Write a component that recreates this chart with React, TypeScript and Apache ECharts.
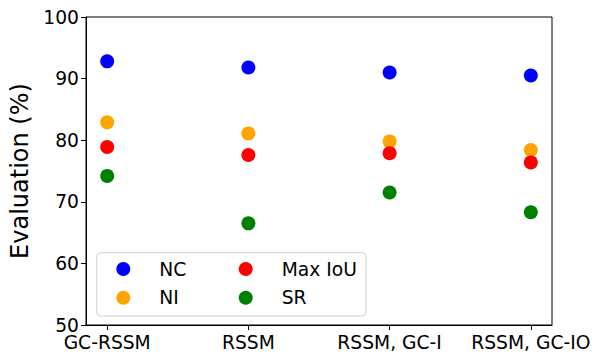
import React, { useEffect, useRef } from "react";
import * as echarts from "echarts";

const categories = ["GC-RSSM", "RSSM", "RSSM, GC-I", "RSSM, GC-IO"];
const ncValues = [92.8, 91.8, 91.0, 90.5];
const niValues = [82.9, 81.1, 79.8, 78.4];
const maxIoUValues = [78.9, 77.6, 77.9, 76.4];
const srValues = [74.2, 66.5, 71.5, 68.3];
const yTicks = [50, 60, 70, 80, 90, 100];

const FONT = "DejaVu Sans";

export default function App() {
  const ref = useRef<HTMLDivElement>(null);
  useEffect(() => {
    if (!ref.current) return;
    const chart = echarts.init(ref.current, null, { renderer: "svg" });
    const mk = (name: string, vals: number[], color: string) => ({
      name,
      type: "scatter",
      symbol: "circle",
      symbolSize: 14,
      itemStyle: { color, opacity: 1 },
      data: vals.map((v, i) => [i, v]),
      z: 3,
    });
    const legendText = {
      color: "#000",
      fontSize: 18.7,
      fontFamily: FONT,
      lineHeight: 20,
      padding: [0, 0, 0, 24],
    };
    chart.setOption({
      animation: false,
      backgroundColor: "#fff",
      grid: {
        left: 86,
        top: 17,
        width: 466,
        height: 308,
        show: true,
        borderColor: "#000",
        borderWidth: 1,
        backgroundColor: "transparent",
      },
      xAxis: {
        type: "value",
        min: -0.15,
        max: 3.15,
        splitLine: { show: false },
        axisLine: { show: true, onZero: false, lineStyle: { color: "#000", width: 1 } },
        axisTick: {
          show: true,
          length: 5,
          lineStyle: { color: "#000" },
          customValues: [0, 1, 2, 3],
        },
        axisLabel: {
          color: "#000",
          fontSize: 18.7,
          fontFamily: FONT,
          lineHeight: 12,
          margin: 11,
          customValues: [0, 1, 2, 3],
          formatter: (v: number) => categories[Math.round(v)] ?? "",
        },
      },
      yAxis: {
        type: "value",
        min: 50,
        max: 100,
        interval: 10,
        name: "Evaluation (%)",
        nameLocation: "middle",
        nameGap: 51,
        nameTextStyle: { color: "#000", fontSize: 24, fontFamily: FONT },
        splitLine: { show: false },
        axisLine: { show: true, onZero: false, lineStyle: { color: "#000", width: 1 } },
        axisTick: { show: true, length: 5, lineStyle: { color: "#000" } },
        axisLabel: {
          color: "#000",
          fontSize: 18.7,
          fontFamily: FONT,
          lineHeight: 14,
          margin: 7,
          customValues: yTicks,
        },
      },
      legend: [
        {
          data: ["NC", "NI"],
          orient: "vertical",
          left: 116.3,
          top: 259,
          icon: "circle",
          itemWidth: 14,
          itemHeight: 14,
          itemGap: 8.7,
          padding: 0,
          z: 20,
          textStyle: legendText,
        },
        {
          data: ["Max IoU", "SR"],
          orient: "vertical",
          left: 238.7,
          top: 259,
          icon: "circle",
          itemWidth: 14,
          itemHeight: 14,
          itemGap: 8.7,
          padding: 0,
          z: 20,
          textStyle: legendText,
        },
      ],
      graphic: [
        {
          type: "rect",
          shape: { x: 96.7, y: 252.7, width: 269.3, height: 63.3, r: 4 },
          style: { fill: "rgba(255,255,255,0.8)", stroke: "#d0d0d0", lineWidth: 1 },
          z: 10,
          silent: true,
        },
      ],
      series: [
        mk("NC", ncValues, "#0000ff"),
        mk("NI", niValues, "#ffa500"),
        mk("Max IoU", maxIoUValues, "#ff0000"),
        mk("SR", srValues, "#008000"),
      ],
    });
    return () => chart.dispose();
  }, []);
  return (
    <div
      ref={ref}
      style={{ position: "fixed", left: 0, top: 0, width: 602, height: 364 }}
    />
  );
}
